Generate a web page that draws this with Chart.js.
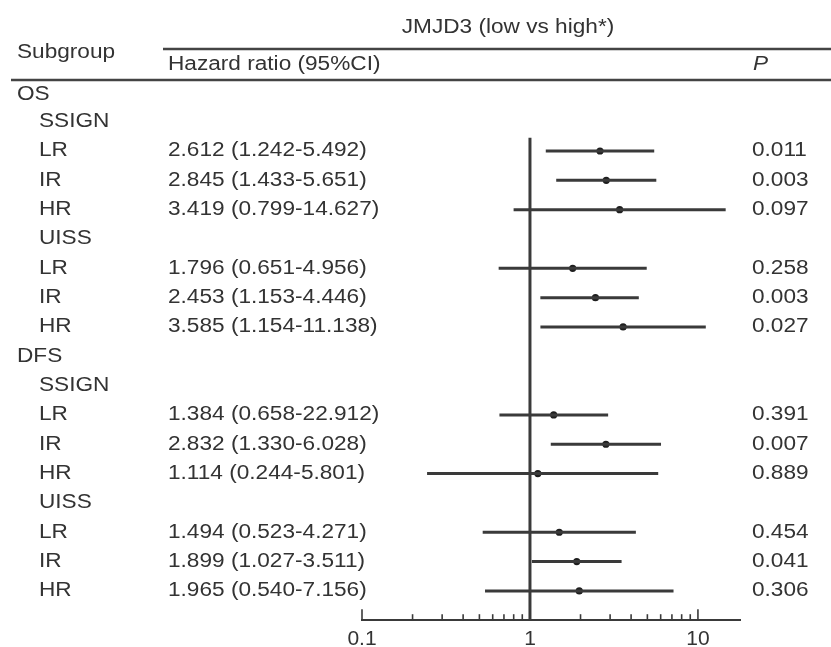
<!DOCTYPE html>
<html>
<head>
<meta charset="utf-8">
<script src="https://cdn.jsdelivr.net/npm/chart.js@4.4.1/dist/chart.umd.min.js"></script>
<style>
html,body{margin:0;padding:0;background:#fff;}
#c{display:block;}
</style>
</head>
<body>
<canvas id="c" width="831" height="647"></canvas>
<script>
// ---- Data ----
const rowLabels = ["OS","SSIGN","LR","IR","HR","UISS","LR","IR","HR","DFS","SSIGN","LR","IR","HR","UISS","LR","IR","HR"];
const rowIndent = [0,1,1,1,1,1,1,1,1,0,1,1,1,1,1,1,1,1];
const dataRows = [2,3,4,6,7,8,11,12,13,15,16,17];
const hazardRatio = [2.612,2.845,3.419,1.796,2.453,3.585,1.384,2.832,1.114,1.494,1.899,1.965];
const ciLow  = [1.242,1.433,0.799,0.651,1.153,1.154,0.658,1.330,0.244,0.523,1.027,0.540];
const ciHigh = [5.492,5.651,14.627,4.956,4.446,11.138,2.92,6.028,5.801,4.271,3.511,7.156];
const ciText = ["2.612 (1.242-5.492)","2.845 (1.433-5.651)","3.419 (0.799-14.627)",
  "1.796 (0.651-4.956)","2.453 (1.153-4.446)","3.585 (1.154-11.138)",
  "1.384 (0.658-22.912)","2.832 (1.330-6.028)","1.114 (0.244-5.801)",
  "1.494 (0.523-4.271)","1.899 (1.027-3.511)","1.965 (0.540-7.156)"];
const pValues = ["0.011","0.003","0.097","0.258","0.003","0.027","0.391","0.007","0.889","0.454","0.041","0.306"];
const xTickValues = [0.1,0.2,0.3,0.4,0.5,0.6,0.7,0.8,0.9,1,2,3,4,5,6,7,8,9,10];
const xTickLabels = {"0.1":"0.1","1":"1","10":"10"};
const titleText = "JMJD3 (low vs high*)";
const subgroupHeader = "Subgroup";
const hrHeader = "Hazard ratio (95%CI)";
const pHeader = "P";

// ---- Styles ----
const INK = "#333333";
const LINE = "#3a3a3a";
const FONT = "'Liberation Sans', Arial, sans-serif";
const FS = 19.5, SX = 1.16;

const datasets = [];
dataRows.forEach((r, i) => {
  datasets.push({
    data: [{x: ciLow[i], y: r}, {x: ciHigh[i], y: r}],
    showLine: true, borderColor: LINE, borderWidth: 3, pointRadius: 0, pointHoverRadius: 0
  });
});
datasets.push({
  data: [{x: 1, y: 1.55}, {x: 1, y: 18}],
  showLine: true, borderColor: LINE, borderWidth: 3, pointRadius: 0
});
datasets.push({
  data: dataRows.map((r, i) => ({x: hazardRatio[i], y: r})),
  showLine: false, pointRadius: 3.6, pointBackgroundColor: "#1e1e1e", pointBorderWidth: 0
});

function txt(ctx, s, x, y, align, italic) {
  ctx.save();
  ctx.font = (italic ? "italic " : "") + FS + "px " + FONT;
  ctx.textAlign = align || "left";
  ctx.textBaseline = "middle";
  ctx.fillStyle = INK;
  ctx.translate(x, y);
  ctx.scale(SX, 1);
  ctx.fillText(s, 0, 0);
  ctx.restore();
}

const tablePlugin = {
  id: "table",
  afterDraw(chart) {
    const ctx = chart.ctx, ys = chart.scales.y, xs = chart.scales.x;
    const W = chart.width;
    // header
    txt(ctx, titleText, 508, ys.getPixelForValue(-2.2), "center");
    txt(ctx, subgroupHeader, 17, ys.getPixelForValue(-1.36), "left");
    txt(ctx, hrHeader, 168, ys.getPixelForValue(-0.95), "left");
    txt(ctx, pHeader, 753, ys.getPixelForValue(-0.95), "left", true);
    ctx.save();
    ctx.strokeStyle = "#444"; ctx.lineWidth = 2.5;
    let y1 = ys.getPixelForValue(-1.48), y2 = ys.getPixelForValue(-0.42);
    ctx.beginPath(); ctx.moveTo(163, y1); ctx.lineTo(W, y1); ctx.stroke();
    ctx.beginPath(); ctx.moveTo(11, y2); ctx.lineTo(W, y2); ctx.stroke();
    ctx.restore();
    // rows
    rowLabels.forEach((lab, r) => {
      txt(ctx, lab, rowIndent[r] ? 39 : 17, ys.getPixelForValue(r + (r === 0 ? 0.08 : 0)), "left");
    });
    dataRows.forEach((r, i) => {
      const y = ys.getPixelForValue(r);
      txt(ctx, ciText[i], 168, y, "left");
      txt(ctx, pValues[i], 752, y, "left");
    });
    // upward tick marks on x axis
    const base = ys.getPixelForValue(18);
    ctx.save();
    ctx.strokeStyle = LINE; ctx.lineWidth = 1.6;
    xs.ticks.forEach(t => {
      const px = xs.getPixelForValue(t.value);
      const major = xTickLabels[String(t.value)] !== undefined;
      ctx.beginPath(); ctx.moveTo(px, base); ctx.lineTo(px, base - (major ? 11 : 6)); ctx.stroke();
    });
    ctx.restore();
  }
};

new Chart(document.getElementById("c"), {
  type: "scatter",
  data: { datasets },
  options: {
    responsive: false, animation: false, devicePixelRatio: 1,
    layout: { padding: { left: 362, right: 91, top: 4.4, bottom: 0 } },
    plugins: { legend: { display: false }, tooltip: { enabled: false } },
    scales: {
      x: {
        type: "logarithmic", min: 0.1, max: 17.8,
        afterBuildTicks(s) { s.ticks = xTickValues.map(v => ({value: v})); },
        afterFit(s) { s.height = 26.8; },
        grid: { display: false, drawTicks: false },
        border: { display: true, color: LINE, width: 2 },
        ticks: {
          autoSkip: false, maxRotation: 0, padding: 6, color: INK,
          font: { family: FONT, size: 21 },
          callback(v) { const k = String(v); return xTickLabels[k] !== undefined ? xTickLabels[k] : ""; }
        }
      },
      y: {
        type: "linear", reverse: true, min: -3, max: 18, display: false
      }
    }
  },
  plugins: [tablePlugin]
});
</script>
</body>
</html>
